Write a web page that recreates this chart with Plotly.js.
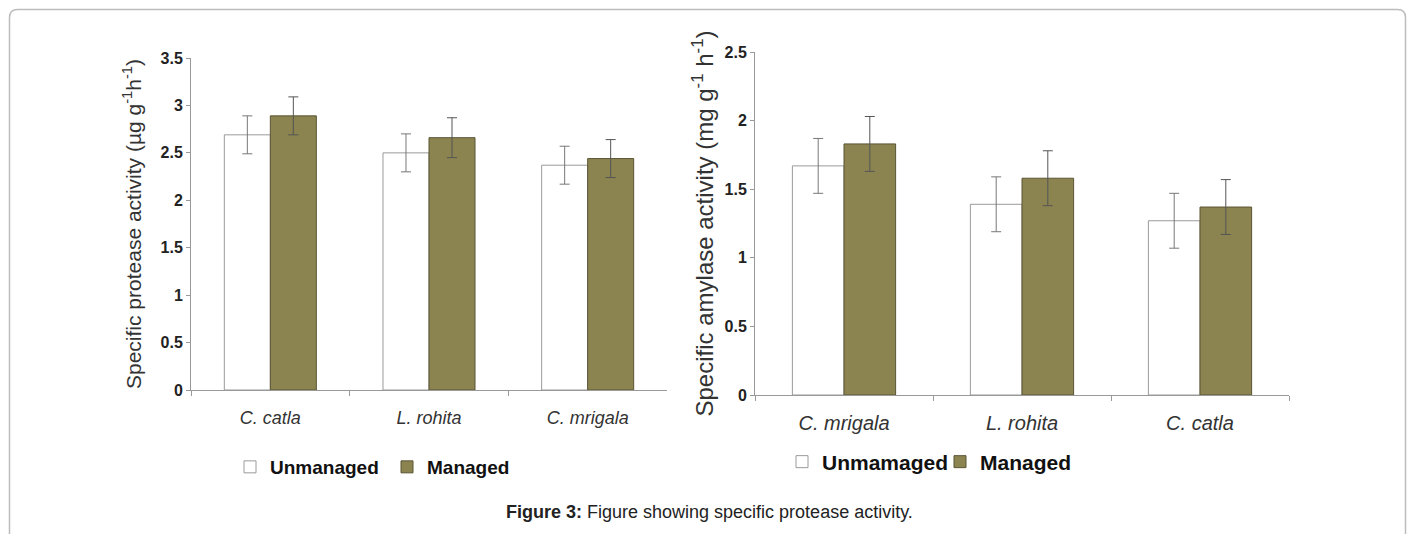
<!DOCTYPE html>
<html>
<head>
<meta charset="utf-8">
<script src="https://cdn.plot.ly/plotly-3.0.1.min.js"></script>
<style>html,body{margin:0;padding:0;background:#fff;}#chart{width:1411px;height:534px;}</style>
</head>
<body>
<div id="chart"></div>
<script>
// ---- data ----
const proteaseCategories = ['C. catla', 'L. rohita', 'C. mrigala'];
const proteaseUnmanaged = [2.69, 2.50, 2.37];
const proteaseUnmanagedErr = [0.20, 0.20, 0.20];
const proteaseManaged = [2.89, 2.66, 2.44];
const proteaseManagedErr = [0.20, 0.21, 0.20];

const amylaseCategories = ['C. mrigala', 'L. rohita', 'C. catla'];
const amylaseUnmanaged = [1.67, 1.39, 1.27];
const amylaseUnmanagedErr = [0.20, 0.20, 0.20];
const amylaseManaged = [1.83, 1.58, 1.37];
const amylaseManagedErr = [0.20, 0.20, 0.20];

const proteaseTickVals = [0, 0.5, 1, 1.5, 2, 2.5, 3, 3.5];
const proteaseTickText = ['0', '0.5', '1', '1.5', '2', '2.5', '3', '3.5'];
const amylaseTickVals = [0, 0.5, 1, 1.5, 2, 2.5];
const amylaseTickText = ['0', '0.5', '1', '1.5', '2', '2.5'];

const captionBold = 'Figure 3:';
const captionText = ' Figure showing specific protease activity.';

// ---- styles ----
const W = 1411, H = 534;
const OLIVE = '#8b8350';
const FONT = 'Liberation Sans, Arial, sans-serif';
const px = v => v / W;
const py = v => 1 - v / H;

function barTrace(x, y, err, name, fill, line, offset, xa, ya, legend, errColor) {
  return {
    type: 'bar', x: x, y: y, name: name,
    xaxis: xa, yaxis: ya, legend: legend,
    width: 0.29, offset: offset,
    marker: {color: fill, line: {color: line, width: 1}},
    error_y: {type: 'data', array: err, visible: true, color: errColor, thickness: 1, width: 5},
    hoverinfo: 'x+y'
  };
}

const traces = [
  barTrace(proteaseCategories, proteaseUnmanaged, proteaseUnmanagedErr, 'Unmanaged', '#ffffff', '#9a9a9a', -0.29, 'x', 'y', 'legend', '#777'),
  barTrace(proteaseCategories, proteaseManaged, proteaseManagedErr, 'Managed', OLIVE, '#5a5535', 0, 'x', 'y', 'legend', '#555'),
  barTrace(amylaseCategories, amylaseUnmanaged, amylaseUnmanagedErr, 'Unmamaged', '#ffffff', '#9a9a9a', -0.29, 'x2', 'y2', 'legend2', '#777'),
  barTrace(amylaseCategories, amylaseManaged, amylaseManagedErr, 'Managed', OLIVE, '#5a5535', 0, 'x2', 'y2', 'legend2', '#555')
];

const xCommon = {
  type: 'category', showline: true, linecolor: '#999', linewidth: 1,
  ticks: 'outside', tickson: 'boundaries', ticklen: 5, tickcolor: '#999',
  showgrid: false, zeroline: false, fixedrange: true
};
const yCommon = {
  showline: true, linecolor: '#999', linewidth: 1,
  ticks: 'outside', ticklen: 4, tickcolor: '#999',
  showgrid: false, zeroline: false, fixedrange: true, tickmode: 'array'
};

const layout = {
  width: W, height: H,
  margin: {l: 0, r: 0, t: 0, b: 0},
  paper_bgcolor: '#fff', plot_bgcolor: 'rgba(0,0,0,0)',
  barmode: 'overlay',
  font: {family: FONT, color: '#222'},
  xaxis: Object.assign({}, xCommon, {
    domain: [px(191), px(667)], anchor: 'y',
    tickfont: {family: FONT, size: 18, style: 'italic', color: '#333'},
    ticklabelstandoff: 11
  }),
  yaxis: Object.assign({}, yCommon, {
    domain: [py(390), py(58)], anchor: 'x', range: [0, 3.5],
    tickvals: proteaseTickVals, ticktext: proteaseTickText,
    tickfont: {family: FONT, size: 16, weight: 'bold', color: '#222'},
    title: {text: 'Specific protease activity (µg g<sup>-1</sup>h<sup>-1</sup>)', font: {family: FONT, size: 21, color: '#333'}, standoff: 13}
  }),
  xaxis2: Object.assign({}, xCommon, {
    domain: [px(755), px(1289)], anchor: 'y2',
    tickfont: {family: FONT, size: 20, style: 'italic', color: '#333'},
    ticklabelstandoff: 10
  }),
  yaxis2: Object.assign({}, yCommon, {
    domain: [py(395), py(52)], anchor: 'x2', range: [0, 2.5],
    tickvals: amylaseTickVals, ticktext: amylaseTickText,
    tickfont: {family: FONT, size: 16, weight: 'bold', color: '#222'},
    title: {text: 'Specific amylase activity (mg g<sup>-1</sup> h<sup>-1</sup>)', font: {family: FONT, size: 24, color: '#333'}, standoff: 4}
  }),
  legend: {
    orientation: 'h', x: px(230), y: py(467), xanchor: 'left', yanchor: 'middle',
    font: {family: FONT, size: 19, weight: 'bold', color: '#111'},
    bgcolor: 'rgba(0,0,0,0)', entrywidth: 112, entrywidthmode: 'pixels', itemclick: false, itemdoubleclick: false
  },
  legend2: {
    orientation: 'h', x: px(782), y: py(462), xanchor: 'left', yanchor: 'middle',
    font: {family: FONT, size: 21, weight: 'bold', color: '#111'},
    bgcolor: 'rgba(0,0,0,0)', entrywidth: 113, entrywidthmode: 'pixels', itemclick: false, itemdoubleclick: false
  },
  annotations: [{
    xref: 'paper', yref: 'paper', x: px(709), y: py(512), xanchor: 'center', yanchor: 'middle',
    showarrow: false, text: '<b>' + captionBold + '</b>' + captionText,
    font: {family: FONT, size: 18, color: '#222'}
  }],
  shapes: [{
    type: 'path', xref: 'paper', yref: 'paper',
    path: 'M ' + px(9.5) + ',-0.05 L ' + px(9.5) + ',' + py(17.5) +
          ' Q ' + px(9.5) + ',' + py(9.5) + ' ' + px(17.5) + ',' + py(9.5) +
          ' L ' + px(1397.5) + ',' + py(9.5) +
          ' Q ' + px(1405.5) + ',' + py(9.5) + ' ' + px(1405.5) + ',' + py(17.5) +
          ' L ' + px(1405.5) + ',-0.05',
    line: {color: '#bdbdbd', width: 1.5}
  }]
};

Plotly.newPlot('chart', traces, layout, {displayModeBar: false, staticPlot: true});
</script>
</body>
</html>
